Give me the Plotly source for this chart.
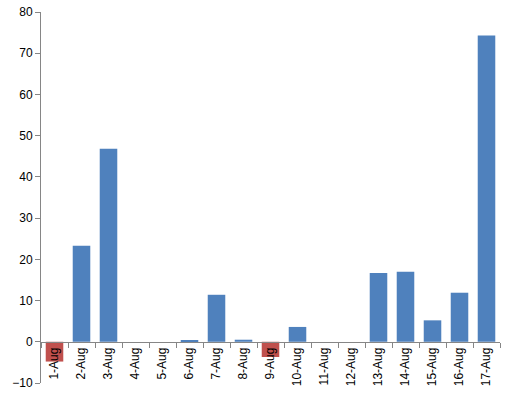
import plotly.graph_objects as go

days = ['1-Aug', '2-Aug', '3-Aug', '4-Aug', '5-Aug', '6-Aug', '7-Aug', '8-Aug', '9-Aug',
        '10-Aug', '11-Aug', '12-Aug', '13-Aug', '14-Aug', '15-Aug', '16-Aug', '17-Aug']
values = [-4.8, 23.3, 46.8, 0, 0, 0.3, 11.4, 0.5, -3.7,
          3.6, 0, 0, 16.7, 17.0, 5.2, 11.9, 74.3]

POS_COLOR = '#4F81BD'
NEG_COLOR = '#C0504D'
colors = [NEG_COLOR if v < 0 else POS_COLOR for v in values]

y_min, y_max = -10, 80

fig = go.Figure()
fig.add_trace(go.Bar(x=days, y=values, marker_color=colors,
    marker_line_width=0, showlegend=False))

fig.update_layout(
        width=513, height=406,
        margin=dict(l=41, r=13, t=12, b=23),
        plot_bgcolor='white', paper_bgcolor='white',
        bargap=0.35,
        font=dict(family='Liberation Sans', size=12, color='black'))

# x axis sits on the zero line, like Excel
fig.update_xaxes(
        anchor='free', position=(0 - y_min) / (y_max - y_min),
        showline=True, linecolor='#868686', linewidth=1,
        ticks='outside', ticklen=5, tickcolor='#868686', tickson='boundaries',
        tickangle=-90, showgrid=False, automargin=False)
fig.update_yaxes(
        range=[y_min, y_max], dtick=10,
        showline=True, linecolor='#868686', linewidth=1,
        ticks='outside', ticklen=5, tickcolor='#868686',
        showgrid=False, zeroline=False, automargin=False)

# drop the default 8px body margin so the chart fills the window
fig.write_html("out.html", config={'displayModeBar': False},
    post_script="document.body.style.margin='0';")
